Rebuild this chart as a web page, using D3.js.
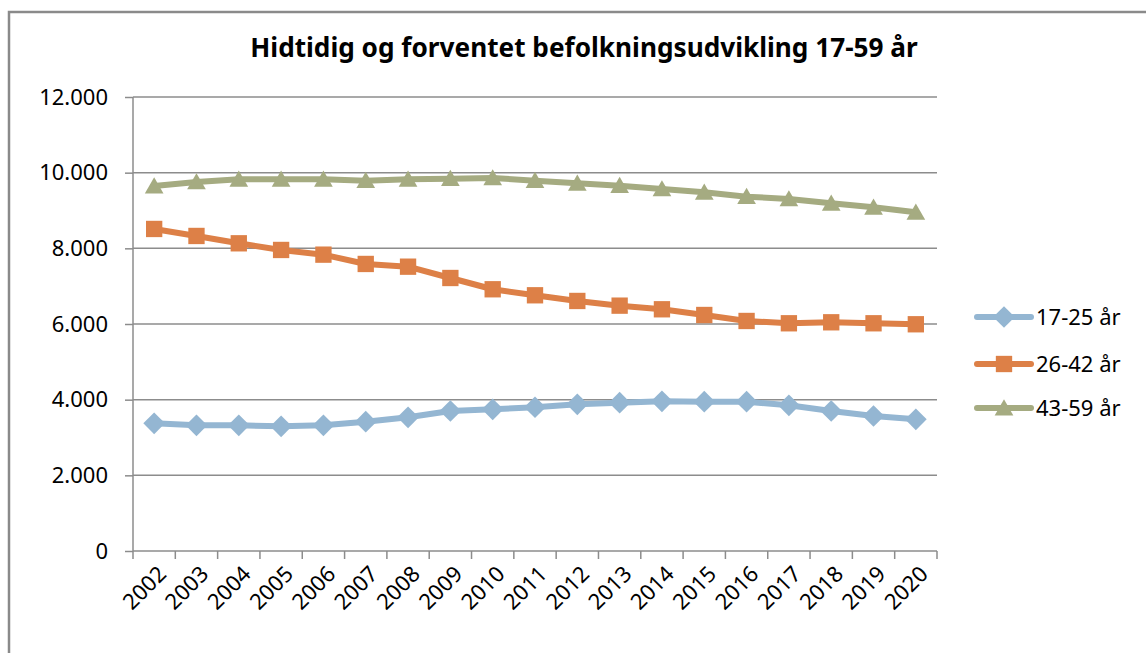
<!DOCTYPE html>
<html>
<head>
<meta charset="utf-8">
<script src="https://cdn.jsdelivr.net/npm/d3@7"></script>
<style>
  html, body { margin: 0; padding: 0; background: #fff; }
  text { font-family: "Noto Sans", "Liberation Sans", sans-serif; fill: #000; }
</style>
</head>
<body>
<svg id="chart" width="1146" height="653"></svg>
<script>
// Data
var years = ["2002", "2003", "2004", "2005", "2006", "2007", "2008", "2009", "2010",
             "2011", "2012", "2013", "2014", "2015", "2016", "2017", "2018", "2019", "2020"];

var age17to25 = [3374, 3322, 3322, 3296, 3322, 3418, 3534, 3701, 3745,
                 3799, 3877, 3920, 3957, 3947, 3947, 3851, 3701, 3569, 3481];
var age26to42 = [8512, 8327, 8133, 7957, 7833, 7587, 7515, 7216, 6918,
                 6759, 6609, 6485, 6389, 6238, 6080, 6019, 6045, 6019, 5993];
var age43to59 = [9648, 9754, 9824, 9824, 9824, 9789, 9824, 9842, 9860,
                 9789, 9718, 9657, 9569, 9481, 9366, 9305, 9190, 9085, 8953];

var yTicks = [0, 2000, 4000, 6000, 8000, 10000, 12000];

var seriesNames = ["17-25 år", "26-42 år", "43-59 år"];
var seriesValues = [age17to25, age26to42, age43to59];
var seriesColors = ["#94b6d2", "#dd8047", "#a5ab81"];
var seriesMarkers = [d3.symbolDiamond2, d3.symbolSquare2, d3.symbolTriangle2];
var markerSizes = [300, 340, 250];
var markerShift = [0, 0, 2]; // triangle sits a little below the line

var title = "Hidtidig og forventet befolkningsudvikling 17-59 år";

var svg = d3.select("#chart");

// Chart frame (runs off the right and bottom edges)
svg.append("rect")
    .attr("x", 9).attr("y", 12)
    .attr("width", 1200).attr("height", 700)
    .attr("fill", "none")
    .attr("stroke", "#8a8a8a")
    .attr("stroke-width", 2.5);

// Plot area
var plot = { left: 133, right: 937, top: 97, bottom: 551 };

var x = d3.scaleBand()
    .domain(years)
    .range([plot.left, plot.right]);

var y = d3.scaleLinear()
    .domain([0, 12000])
    .range([plot.bottom, plot.top]);

var fmt = function (v) {
    return v === 0 ? "0" : d3.format(",")(v).replace(/,/g, ".");
};

// Gridlines
svg.append("g").attr("class", "grid")
    .selectAll("line")
    .data(yTicks.filter(function (d) { return d > 0; }))
    .enter().append("line")
    .attr("x1", plot.left).attr("x2", plot.right)
    .attr("y1", function (d) { return y(d); })
    .attr("y2", function (d) { return y(d); })
    .attr("stroke", "#8c8c8c")
    .attr("stroke-width", 1.5);

// Y axis
var yAxis = svg.append("g")
    .attr("transform", "translate(" + plot.left + ",0)")
    .call(d3.axisLeft(y).tickValues(yTicks).tickFormat(fmt).tickSize(8).tickPadding(17));
yAxis.selectAll("path, line").attr("stroke", "#8c8c8c").attr("stroke-width", 1.5);
yAxis.select("path").attr("d", "M0," + plot.top + "V" + plot.bottom);
yAxis.selectAll("text")
    .style("font-size", "22px")
    .style("font-family", "'Noto Sans', sans-serif");

// X axis (ticks between categories)
var xAxisG = svg.append("g").attr("class", "x-axis");
xAxisG.append("line")
    .attr("x1", plot.left).attr("x2", plot.right)
    .attr("y1", plot.bottom).attr("y2", plot.bottom)
    .attr("stroke", "#8c8c8c").attr("stroke-width", 1.5);

var boundaries = years.map(function (d) { return x(d); }).concat([plot.right]);
xAxisG.selectAll("line.tick")
    .data(boundaries)
    .enter().append("line")
    .attr("class", "tick")
    .attr("x1", function (d) { return d; })
    .attr("x2", function (d) { return d; })
    .attr("y1", plot.bottom).attr("y2", plot.bottom + 8)
    .attr("stroke", "#8c8c8c").attr("stroke-width", 1.5);

xAxisG.selectAll("text")
    .data(years)
    .enter().append("text")
    .attr("transform", function (d) {
        var cx = x(d) + x.bandwidth() / 2 + 8;
        return "translate(" + cx + "," + (plot.bottom + 19) + ") rotate(-45)";
    })
    .attr("text-anchor", "end")
    .attr("dy", "0.35em")
    .style("font-size", "22px")
    .text(function (d) { return d; });

// Lines and markers
var line = d3.line()
    .x(function (d, i) { return x(years[i]) + x.bandwidth() / 2; })
    .y(function (d) { return y(d); });

seriesValues.forEach(function (vals, s) {
    var g = svg.append("g").attr("class", "series");
    g.append("path")
        .datum(vals)
        .attr("d", line)
        .attr("fill", "none")
        .attr("stroke", seriesColors[s])
        .attr("stroke-width", 6)
        .attr("stroke-linejoin", "round");

    g.selectAll("path.marker")
        .data(vals)
        .enter().append("path")
        .attr("class", "marker")
        .attr("d", d3.symbol().type(seriesMarkers[s]).size(markerSizes[s]))
        .attr("transform", function (d, i) {
            return "translate(" + (x(years[i]) + x.bandwidth() / 2) + "," + (y(d) + markerShift[s]) + ")";
        })
        .attr("fill", seriesColors[s]);
});

// Legend
var legendY = [317, 364, 408];
var legend = svg.append("g").attr("class", "legend");
seriesNames.forEach(function (name, s) {
    var ly = legendY[s];
    legend.append("line")
        .attr("x1", 977).attr("x2", 1031)
        .attr("y1", ly).attr("y2", ly)
        .attr("stroke", seriesColors[s])
        .attr("stroke-width", 6)
        .attr("stroke-linecap", "round");
    legend.append("path")
        .attr("d", d3.symbol().type(seriesMarkers[s]).size(markerSizes[s]))
        .attr("transform", "translate(1004," + (ly + markerShift[s]) + ")")
        .attr("fill", seriesColors[s]);
    legend.append("text")
        .attr("x", 1036).attr("y", ly)
        .attr("dy", "0.35em")
        .style("font-size", "22px")
        .text(name);
});

// Title, sized to the width it has in the picture
var t = svg.append("text")
    .attr("x", 584).attr("y", 57)
    .attr("text-anchor", "middle")
    .style("font-weight", "bold")
    .style("font-size", "24px")
    .text(title);
var w = t.node().getComputedTextLength();
t.style("font-size", (24 * 668 / w).toFixed(1) + "px");
</script>
</body>
</html>
